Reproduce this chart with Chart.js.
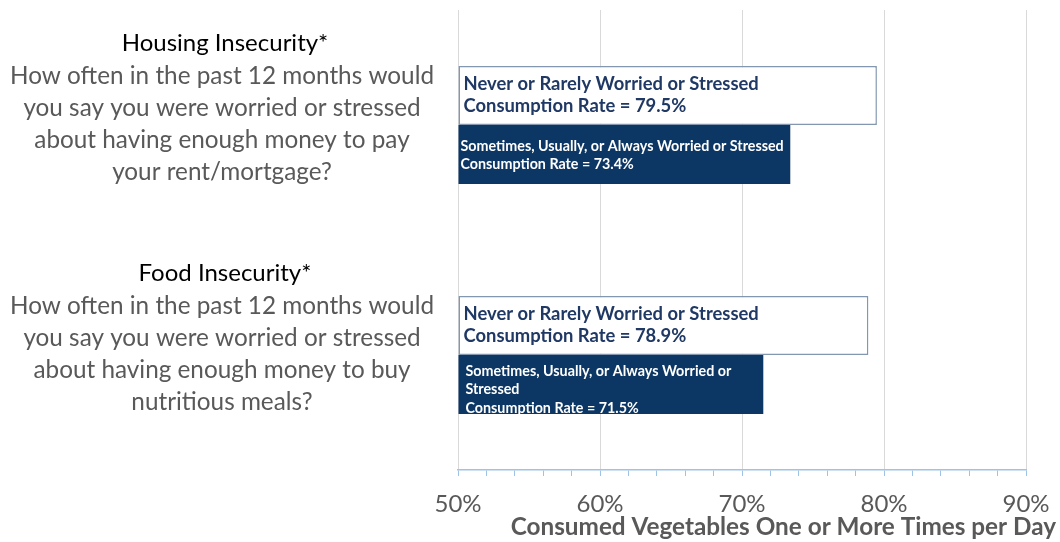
<!DOCTYPE html>
<html>
<head>
<meta charset="utf-8">
<script src="https://cdn.jsdelivr.net/npm/chart.js@4.4.1/dist/chart.umd.min.js"></script>
<style>
  html, body { margin: 0; padding: 0; background: #ffffff; }
  #wrap { width: 1060px; height: 542px; position: relative; }
</style>
</head>
<body>
<div id="wrap"><canvas id="c" width="1060" height="542"></canvas></div>
<script>
// ---- data ----
const categories = ['Housing Insecurity*', 'Food Insecurity*'];
const questionLines = [
  ['How often in the past 12 months would', 'you say you were worried or stressed', 'about having enough money to pay', 'your rent/mortgage?'],
  ['How often in the past 12 months would', 'you say you were worried or stressed', 'about having enough money to buy', 'nutritious meals?']
];
const neverValues = [79.5, 78.9];
const sometimesValues = [73.4, 71.5];
const neverLabels = [
  ['Never or Rarely Worried or Stressed', 'Consumption Rate = 79.5%'],
  ['Never or Rarely Worried or Stressed', 'Consumption Rate = 78.9%']
];
const sometimesLabels = [
  ['Sometimes, Usually, or Always Worried or Stressed', 'Consumption Rate = 73.4%'],
  ['Sometimes, Usually, or Always Worried or', 'Stressed', 'Consumption Rate = 71.5%']
];
const axisMin = 50, axisMax = 90, axisStep = 2;
const axisTitle = 'Consumed Vegetables One or More Times per Day';

const FONT = 'Lato, "Open Sans", sans-serif';

const annotPlugin = {
  id: 'annot',
  afterDatasetsDraw(chart) {
    const ctx = chart.ctx;
    ctx.save();
    ctx.textAlign = 'left';
    ctx.textBaseline = 'middle';
    // white bars
    chart.getDatasetMeta(0).data.forEach((bar, i) => {
      const top = bar.y - bar.height / 2;
      const left = Math.min(bar.x, bar.base);
      ctx.fillStyle = '#1F3864';
      ctx.font = 'bold 18.4px ' + FONT;
      neverLabels[i].forEach((ln, k) => ctx.fillText(ln, left + 5, top + 18 + k * 22));
    });
    chart.getDatasetMeta(1).data.forEach((bar, i) => {
      const top = bar.y - bar.height / 2;
      const left = Math.min(bar.x, bar.base);
      ctx.fillStyle = '#ffffff';
      ctx.font = 'bold 14.3px ' + FONT;
      const lines = sometimesLabels[i];
      const start = lines.length >= 3 ? 16 : 21;
      const dx = lines.length >= 3 ? 7 : 2;
      lines.forEach((ln, k) => ctx.fillText(ln, left + dx, top + start + k * 18.7));
    });
    ctx.restore();
  },
  afterDraw(chart) {
    const ctx = chart.ctx;
    const yScale = chart.scales.y;
    ctx.save();
    ctx.textAlign = 'center';
    ctx.textBaseline = 'middle';
    categories.forEach((cat, i) => {
      const cy = yScale.getPixelForValue(i);
      ctx.fillStyle = '#000000';
      ctx.font = '24px ' + FONT;
      ctx.fillText(cat, 225, cy - 82);
      ctx.fillStyle = '#595959';
      ctx.font = '24.3px ' + FONT;
      questionLines[i].forEach((ln, k) => ctx.fillText(ln, 222, cy - 49 + k * 32));
    });
    // axis title
    ctx.textAlign = 'right';
    ctx.fillStyle = '#595959';
    ctx.font = 'bold 24.3px ' + FONT;
    ctx.fillText(axisTitle, 1056, 527);
    ctx.restore();
  }
};

new Chart(document.getElementById('c'), {
  type: 'bar',
  data: {
    labels: categories,
    datasets: [
      {
        label: 'Never or Rarely Worried or Stressed',
        data: neverValues,
        base: axisMin,
        backgroundColor: '#ffffff',
        borderColor: '#8497B0',
        borderWidth: 1.5,
        borderSkipped: false
      },
      {
        label: 'Sometimes, Usually, or Always Worried or Stressed',
        data: sometimesValues,
        base: axisMin,
        backgroundColor: '#0C3663',
        borderWidth: 0
      }
    ]
  },
  options: {
    indexAxis: 'y',
    responsive: false,
    animation: false,
    devicePixelRatio: 1,
    layout: { padding: { left: 458, right: 34, top: 10, bottom: 0 } },
    datasets: { bar: { barPercentage: 1.0, categoryPercentage: 0.513 } },
    plugins: { legend: { display: false }, tooltip: { enabled: false } },
    scales: {
      y: { display: false },
      x: {
        min: axisMin,
        max: axisMax,
        afterFit(scale) { scale.height = 72; scale.paddingRight = 0; scale.paddingLeft = 0; },
        ticks: {
          stepSize: axisStep,
          autoSkip: false,
          maxRotation: 0,
          padding: 14,
          color: '#595959',
          font: { family: FONT, size: 24 },
          callback: (v) => (v % 10 === 0 ? v + '%' : '')
        },
        grid: {
          color: (c) => (c.tick && c.tick.value % 10 === 0 ? '#D9D9D9' : 'rgba(0,0,0,0)'),
          lineWidth: 1,
          tickColor: '#9DC3E6',
          tickLength: 6,
          drawTicks: true
        },
        border: { display: true, color: '#9DC3E6', width: 1.5 }
      }
    }
  },
  plugins: [annotPlugin]
});
</script>
</body>
</html>
